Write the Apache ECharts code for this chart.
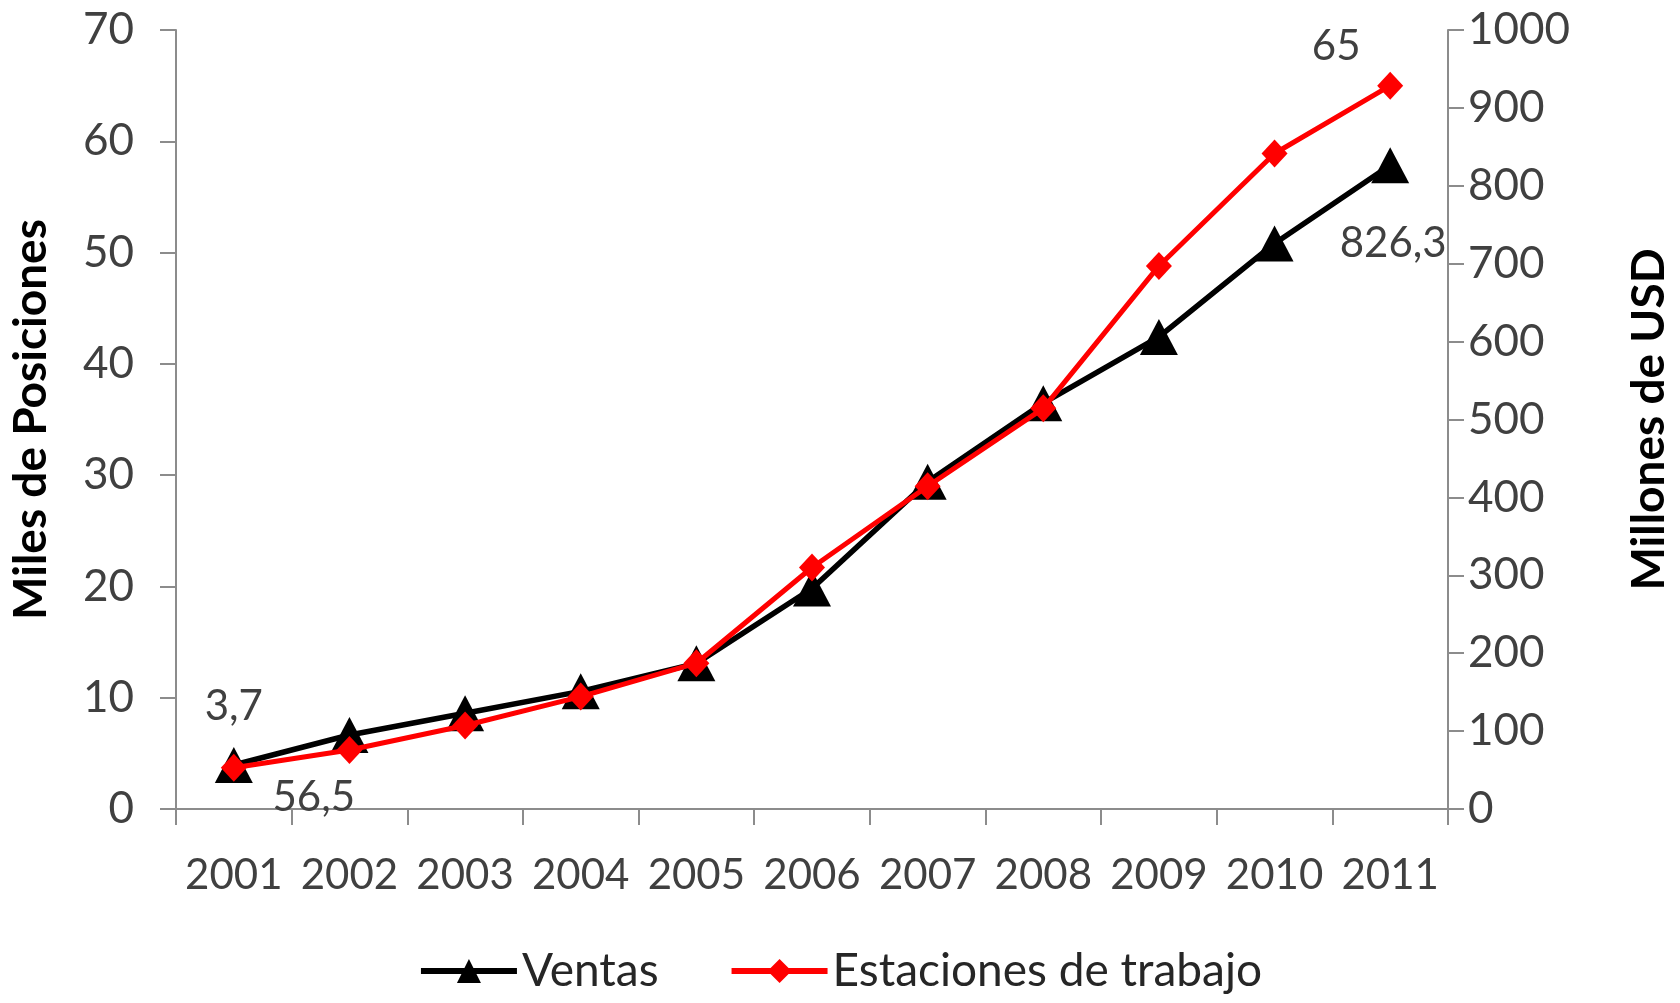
<!DOCTYPE html>
<html>
<head>
<meta charset="utf-8">
<script src="https://cdn.jsdelivr.net/npm/echarts@6/dist/echarts.min.js"></script>
<style>
html,body{margin:0;padding:0;background:#fff;}
#chart{width:1680px;height:1003px;}
</style>
</head>
<body>
<div id="chart"></div>
<script>
const years = ['2001','2002','2003','2004','2005','2006','2007','2008','2009','2010','2011'];
const ventas = [56.5, 95, 123, 151, 187, 283, 420, 521, 606, 726, 826.3];        // Millones de USD (right axis)
const estaciones = [3.7, 5.3, 7.5, 10.1, 13.1, 21.7, 29.0, 36.0, 48.8, 58.9, 65]; // Miles de Posiciones (left axis)
const leftTicks = {min: 0, max: 70, interval: 10};
const rightTicks = {min: 0, max: 1000, interval: 100};
const seriesNames = ['Ventas', 'Estaciones de trabajo'];
const leftTitle = 'Miles de Posiciones';
const rightTitle = 'Millones de USD';

const FONT = 'Lato';
const fmt = v => String(v).replace('.', ',');

function withLabels(values, labelled) {
  return values.map((v, i) => {
    if (labelled[i]) {
      return {value: v, label: Object.assign({show: true}, labelled[i])};
    }
    return v;
  });
}

const labelBase = {
  position: 'inside', align: 'center', verticalAlign: 'middle',
  fontFamily: FONT, fontSize: 42, color: '#404040',
  formatter: p => fmt(p.value)
};

const ventasData = withLabels(ventas, {
  0: Object.assign({}, labelBase, {offset: [80, 32]}),
  10: Object.assign({}, labelBase, {offset: [3, 78]})
});
const estData = withLabels(estaciones, {
  0: Object.assign({}, labelBase, {offset: [0, -61]}),
  10: Object.assign({}, labelBase, {offset: [-54, -39]})
});

const axisLineStyle = {color: '#8c8c8c', width: 2};
const plainNum = v => String(v);

const chart = echarts.init(document.getElementById('chart'), null, {renderer: 'canvas'});
chart.setOption({
  animation: false,
  backgroundColor: '#ffffff',
  grid: {left: 173, right: 227, top: 30, bottom: 194, containLabel: false},
  legend: {
    data: [
      {name: seriesNames[0], lineStyle: {width: 6, color: '#000'}, itemStyle: {color: '#000'}},
      {name: seriesNames[1], lineStyle: {width: 6, color: '#ff0000'}, itemStyle: {color: '#ff0000'}}
    ],
    bottom: 4,
    left: 'center',
    itemWidth: 96,
    itemHeight: 30,
    itemGap: 70,
    textStyle: {fontFamily: FONT, fontSize: 46, color: '#262626'}
  },
  xAxis: {
    type: 'category',
    data: years,
    boundaryGap: true,
    axisLine: {lineStyle: axisLineStyle},
    axisTick: {show: true, length: 16, lineStyle: axisLineStyle},
    axisLabel: {fontFamily: FONT, fontSize: 42, color: '#404040', margin: 45, interval: 0},
    splitLine: {show: false}
  },
  yAxis: [
    {
      type: 'value', position: 'left',
      min: leftTicks.min, max: leftTicks.max, interval: leftTicks.interval,
      name: leftTitle, nameLocation: 'middle', nameRotate: 90, nameGap: 122,
      nameTextStyle: {fontFamily: FONT, fontSize: 46, fontWeight: 'bold', color: '#000'},
      axisLine: {show: true, lineStyle: axisLineStyle},
      axisTick: {show: true, length: 16, lineStyle: axisLineStyle},
      axisLabel: {fontFamily: FONT, fontSize: 44, color: '#404040', margin: 42, formatter: plainNum},
      splitLine: {show: false}
    },
    {
      type: 'value', position: 'right',
      min: rightTicks.min, max: rightTicks.max, interval: rightTicks.interval,
      name: rightTitle, nameLocation: 'middle', nameRotate: 90, nameGap: 178,
      nameTextStyle: {fontFamily: FONT, fontSize: 46, fontWeight: 'bold', color: '#000'},
      axisLine: {show: true, lineStyle: axisLineStyle},
      axisTick: {show: true, length: 16, lineStyle: axisLineStyle},
      axisLabel: {fontFamily: FONT, fontSize: 44, color: '#404040', margin: 20, formatter: plainNum},
      splitLine: {show: false}
    }
  ],
  series: [
    {
      name: seriesNames[0],
      type: 'line',
      yAxisIndex: 1,
      data: ventasData,
      symbol: 'triangle',
      symbolSize: [38, 36],
      color: '#000000',
      lineStyle: {color: '#000000', width: 5.5},
      itemStyle: {color: '#000000'},
      z: 2
    },
    {
      name: seriesNames[1],
      type: 'line',
      yAxisIndex: 0,
      data: estData,
      symbol: 'diamond',
      symbolSize: [26, 28],
      color: '#ff0000',
      lineStyle: {color: '#ff0000', width: 5},
      itemStyle: {color: '#ff0000'},
      z: 3
    }
  ]
});
</script>
</body>
</html>
